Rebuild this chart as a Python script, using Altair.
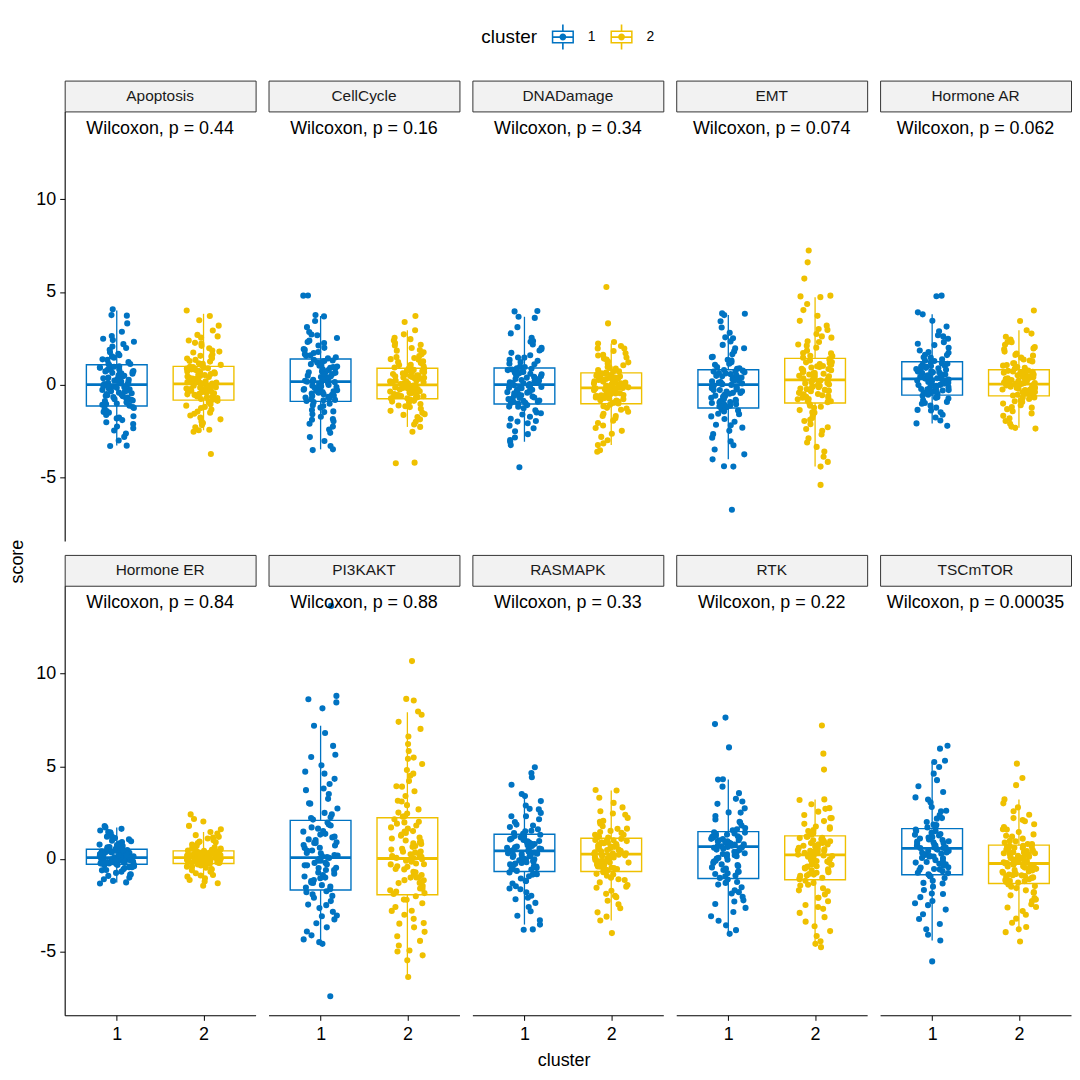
import altair as alt
import pandas as pd

PATHWAYS = ["Apoptosis", "CellCycle", "DNADamage", "EMT", "Hormone AR",
            "Hormone ER", "PI3KAKT", "RASMAPK", "RTK", "TSCmTOR"]
CLUSTERS = ["1", "2"]
COLORS = ["#0073C2", "#EFC000"]
P_LABELS = ["Wilcoxon, p = 0.44", "Wilcoxon, p = 0.16", "Wilcoxon, p = 0.34",
            "Wilcoxon, p = 0.074", "Wilcoxon, p = 0.062", "Wilcoxon, p = 0.84",
            "Wilcoxon, p = 0.88", "Wilcoxon, p = 0.33", "Wilcoxon, p = 0.22",
            "Wilcoxon, p = 0.00035"]
Y_TICKS = [-5, 0, 5, 10]
X_TICKS = [1, 2]
Y_DOMAIN = [-8.45, 14.75]
LABEL_X = 1.5
LABEL_Y = 13.8

# box statistics per pathway (order of PATHWAYS)
Q1_C1 = [-1.16, -0.91, -1.05, -1.27, -0.57, -0.29, -1.68, -0.68, -1.06, -0.86]
MED_C1 = [0.0, 0.16, 0.0, 0.0, 0.3, 0.07, 0.07, 0.43, 0.66, 0.57]
Q3_C1 = [1.07, 1.38, 0.89, 0.8, 1.23, 0.52, 2.08, 1.33, 1.47, 1.63]
LO_C1 = [-3.29, -3.5, -3.09, -4.04, -2.1, -1.27, -4.59, -3.55, -4.05, -4.41]
HI_C1 = [4.0, 3.7, 3.66, 3.75, 3.79, 1.7, 7.19, 3.39, 4.28, 5.23]
Q1_C2 = [-0.84, -0.77, -1.04, -1.0, -0.61, -0.25, -1.94, -0.68, -1.13, -1.33]
MED_C2 = [0.04, -0.02, -0.18, 0.25, 0.02, 0.07, 0.02, 0.25, 0.21, -0.25]
Q3_C2 = [0.98, 0.88, 0.63, 1.41, 0.8, 0.43, 2.22, 1.11, 1.24, 0.74]
LO_C2 = [-2.47, -2.29, -3.27, -4.43, -2.34, -1.27, -6.38, -3.33, -4.59, -3.96]
HI_C2 = [3.82, 2.93, 2.21, 4.72, 2.93, 1.45, 7.92, 3.69, 3.21, 3.21]

APOPTOSIS_1 = [4.06, 3.75, 3.72, 3.3, 2.85, 2.62, 2.47, 2.31, 2.18, 1.97, 1.88, 1.74, 1.66, 1.52, 1.45, 1.33, 1.21, 1.12,
               1.04, 0.98, 0.91, 0.84, 0.79, 0.71, 0.63, 0.58, 0.49, 0.44, 0.37, 0.29, 0.22, 0.16, 0.09, 0.03, 0.01,
               -0.04, -0.11, -0.18, -0.26, -0.33, -0.39, -0.47, -0.52, -0.61, -0.68, -0.74, -0.83, -0.89, -0.96, -1.03, -1.09, -1.14,
               -1.22, -1.31, -1.43, -1.52, -1.64, -1.71, -1.83, -1.92, -2.04, -2.13, -2.27, -2.36, -2.48, -2.65, -2.83, -3.02, -3.32, -3.3,
               0.92, 0.55, 0.13, -0.21, -0.58, -0.97, 1.36, 0.67, 0.26, -0.07, -0.44, -0.79, -1.27, 1.58, 0.81, 0.34, -0.15, -0.63,
               -1.05, 2.05, 0.47, 0.06, -0.36, -0.86, 1.11, 0.73, -0.29, -0.71, -1.48, 0.19, 0.96, -0.55, 2.4, -1.78, 0.61, -0.12]
APOPTOSIS_2 = [4.0, 3.7, 3.47, 3.18, 2.92, 2.68, 2.53, 2.38, 2.21, 2.09, 1.96, 1.84, 1.73, 1.62, 1.51, 1.42, 1.33, 1.24, 1.15, 1.06, 1.01,
               0.96, 0.91, 0.86, 0.79, 0.74, 0.68, 0.63, 0.57, 0.51, 0.46, 0.41, 0.34, 0.29, 0.23, 0.18, 0.13, 0.08, 0.05, 0.02,
               -0.03, -0.08, -0.14, -0.19, -0.24, -0.31, -0.36, -0.42, -0.47, -0.53, -0.58, -0.64, -0.69, -0.73, -0.78, -0.82,
               -0.88, -0.97, -1.06, -1.14, -1.27, -1.35, -1.46, -1.58, -1.67, -1.79, -1.88, -1.99, -2.08, -2.19, -2.31, -2.44, -2.55, -2.47, -3.75,
               0.88, 0.52, 0.16, -0.22, -0.61, 1.27, 0.71, 0.32, -0.06, -0.45, -0.77, 1.55, 0.94, 0.43, 0.1, -0.27, -0.66, 1.78, 0.6, 0.24,
               -0.12, -0.5, -0.93, 1.12, 0.37, 0.01, -0.38, -1.21, 2.25, 0.82, -0.17, -0.71, 1.4, -1.52, 0.66, -0.33, 2.6, 0.2, -0.56, 1.02]
CELLCYCLE_1 = [4.81, 4.8, 3.75, 3.68, 3.43, 3.1, 2.84, 2.66, 2.51, 2.37, 2.24, 2.11, 1.98, 1.87, 1.76, 1.64, 1.55, 1.47, 1.41,
               1.34, 1.27, 1.19, 1.1, 1.02, 0.94, 0.87, 0.79, 0.71, 0.63, 0.56, 0.48, 0.41, 0.33, 0.26, 0.2, 0.17,
               0.13, 0.07, 0.01, -0.06, -0.13, -0.21, -0.28, -0.34, -0.41, -0.49, -0.55, -0.62, -0.7, -0.76, -0.83, -0.89,
               -0.95, -1.04, -1.16, -1.25, -1.38, -1.49, -1.61, -1.74, -1.86, -1.98, -2.12, -2.27, -2.43, -2.61, -2.84, -3.05, -3.32, -3.5, -3.54,
               1.22, 0.83, 0.45, 0.09, -0.31, -0.67, 1.58, 1.05, 0.6, 0.23, -0.17, -0.52, -0.85, 1.91, 0.97, 0.38, -0.02, -0.44,
               -1.12, 2.3, 0.72, 0.15, -0.24, -0.79, 1.3, 0.52, -0.1, -0.6, -1.45, 2.7, 0.9, 0.3, -0.37, 1.7, -1.9, 0.66]
CELLCYCLE_2 = [3.7, 3.38, 2.93, 2.71, 2.52, 2.38, 2.24, 2.11, 1.97, 1.86, 1.74, 1.63, 1.54, 1.43, 1.34, 1.25, 1.16, 1.07, 0.98, 0.92,
               0.86, 0.81, 0.76, 0.7, 0.65, 0.6, 0.54, 0.49, 0.44, 0.38, 0.33, 0.28, 0.22, 0.17, 0.12, 0.07, 0.03, 0.0,
               -0.05, -0.09, -0.14, -0.19, -0.24, -0.28, -0.33, -0.38, -0.43, -0.47, -0.52, -0.57, -0.62, -0.66, -0.71, -0.75,
               -0.81, -0.88, -0.96, -1.05, -1.13, -1.22, -1.31, -1.42, -1.53, -1.64, -1.76, -1.88, -2.01, -2.16, -2.29, -2.55, -4.25, -4.22,
               0.79, 0.46, 0.13, -0.2, -0.51, 1.21, 0.67, 0.31, -0.03, -0.36, -0.68, 1.48, 0.85, 0.41, 0.06, -0.27, -0.59, 1.83, 0.57, 0.21,
               -0.11, -0.45, -0.92, 1.05, 0.36, 0.0, -0.31, -1.17, 2.15, 0.72, -0.16, -0.63, 1.37, -1.6, 0.5, -0.41, 2.45, 0.17, -0.74, 0.95]
DNADAMAGE_1 = [3.97, 3.95, 3.66, 3.6, 3.1, 2.76, 2.52, 2.31, 2.16, 1.98, 1.84, 1.71, 1.58, 1.46, 1.33, 1.21, 1.09, 0.97,
               0.87, 0.81, 0.74, 0.68, 0.61, 0.55, 0.49, 0.42, 0.36, 0.3, 0.24, 0.18, 0.12, 0.06, 0.02,
               -0.04, -0.1, -0.17, -0.23, -0.3, -0.37, -0.44, -0.51, -0.58, -0.65, -0.72, -0.79, -0.86, -0.93, -0.99, -1.03,
               -1.11, -1.19, -1.28, -1.39, -1.51, -1.62, -1.74, -1.85, -1.97, -2.09, -2.22, -2.36, -2.52, -2.68, -2.86, -3.0, -3.09, -3.27, -4.47,
               0.78, 0.45, 0.14, -0.2, -0.54, -0.88, 1.12, 0.63, 0.3, -0.02, -0.36, -0.7, -1.0, 1.45, 0.7, 0.22, -0.13, -0.47,
               -1.2, 1.9, 0.52, 0.08, -0.28, -0.77, 0.95, 0.37, -0.07, -0.62, -1.55, 2.35, 0.85, -0.41, 1.28, -2.0, 0.58, -0.93]
DNADAMAGE_2 = [5.27, 3.3, 2.3, 2.21, 2.08, 1.94, 1.81, 1.69, 1.57, 1.46, 1.35, 1.24, 1.14, 1.04, 0.95, 0.86, 0.78, 0.7, 0.65,
               0.6, 0.55, 0.5, 0.44, 0.38, 0.33, 0.27, 0.21, 0.16, 0.1, 0.05, -0.01, -0.06, -0.11, -0.15, -0.17,
               -0.21, -0.26, -0.31, -0.36, -0.42, -0.47, -0.53, -0.58, -0.64, -0.7, -0.76, -0.81, -0.87, -0.93, -0.98, -1.02,
               -1.09, -1.17, -1.26, -1.36, -1.47, -1.58, -1.7, -1.82, -1.95, -2.08, -2.21, -2.35, -2.5, -2.66, -2.83, -3.01, -3.18, -3.27, -3.55, -3.63,
               0.54, 0.25, -0.05, -0.33, -0.62, -0.92, 0.88, 0.43, 0.12, -0.19, -0.48, -0.79, 1.2, 0.6, 0.3, 0.0, -0.27, -0.57, -0.99, 1.6,
               0.48, 0.07, -0.24, -0.68, -1.3, 0.71, 0.18, -0.12, -0.43, -0.85, 1.95, 0.36, -0.39, -1.7, 0.95, -0.73, 0.02, -0.52, 1.4, -0.2]
EMT_1 = [3.84, 3.82, 3.75, 3.42, 3.08, 2.79, 2.55, 2.33, 2.14, 1.96, 1.79, 1.63, 1.48, 1.34, 1.2, 1.07, 0.94, 0.85,
         0.78, 0.72, 0.66, 0.6, 0.53, 0.47, 0.41, 0.35, 0.29, 0.23, 0.17, 0.11, 0.06, 0.02,
         -0.05, -0.13, -0.21, -0.3, -0.38, -0.46, -0.55, -0.63, -0.72, -0.8, -0.89, -0.97, -1.06, -1.14, -1.22,
         -1.33, -1.45, -1.58, -1.72, -1.86, -2.01, -2.17, -2.33, -2.5, -2.68, -2.87, -3.07, -3.28, -3.51, -3.77, -4.04, -4.43, -4.41, -6.76,
         0.7, 0.38, 0.05, -0.27, -0.6, -0.95, 1.12, 0.56, 0.2, -0.12, -0.45, -0.82, -1.18, 1.5, 0.62, 0.14, -0.2, -0.67,
         -1.4, 1.95, 0.45, -0.02, -0.36, -1.0, 0.88, 0.27, -0.5, -1.6, 2.5, 0.75, -0.88, -2.2, 1.3, 0.1, -0.3, -1.1]
EMT_2 = [7.24, 6.6, 5.72, 4.8, 4.76, 4.72, 4.35, 4.02, 3.71, 3.44, 3.18, 2.95, 2.73, 2.53, 2.34, 2.16, 1.99, 1.83, 1.68, 1.54, 1.45,
         1.37, 1.3, 1.22, 1.15, 1.07, 0.99, 0.92, 0.84, 0.77, 0.69, 0.62, 0.54, 0.47, 0.4, 0.33, 0.27,
         0.22, 0.15, 0.08, 0.0, -0.07, -0.14, -0.22, -0.29, -0.36, -0.44, -0.51, -0.58, -0.66, -0.73, -0.8, -0.88, -0.95,
         -1.05, -1.14, -1.26, -1.38, -1.52, -1.66, -1.81, -1.97, -2.14, -2.31, -2.5, -2.7, -2.91, -3.13, -3.37, -3.62, -3.9, -4.18, -4.43, -5.42,
         1.28, 0.85, 0.45, 0.06, -0.33, -0.71, 1.7, 1.1, 0.62, 0.24, -0.15, -0.53, -0.9, 2.1, 1.0, 0.5, 0.12, -0.25, -0.62, -1.2,
         2.6, 0.78, 0.34, -0.04, -0.45, -1.5, 1.55, 0.68, 0.18, -0.78, 3.0, 1.2, -0.1, -1.9, 0.95, 0.4, -0.35, 2.3, -2.4, 0.58]
HORMONE_AR_1 = [4.8, 4.77, 3.9, 3.79, 3.44, 3.13, 2.88, 2.66, 2.47, 2.29, 2.13, 1.98, 1.84, 1.71, 1.59, 1.47, 1.36, 1.27,
                1.2, 1.14, 1.08, 1.02, 0.96, 0.9, 0.84, 0.78, 0.72, 0.66, 0.6, 0.54, 0.48, 0.42, 0.37, 0.32,
                0.27, 0.22, 0.16, 0.1, 0.04, -0.02, -0.08, -0.14, -0.2, -0.26, -0.32, -0.38, -0.44, -0.5, -0.55,
                -0.61, -0.68, -0.76, -0.85, -0.94, -1.04, -1.14, -1.25, -1.37, -1.5, -1.63, -1.78, -1.94, -2.1, -2.23,
                1.12, 0.8, 0.5, 0.22, -0.07, -0.36, 1.45, 0.97, 0.62, 0.34, 0.05, -0.24, -0.5, 1.75, 0.88, 0.41, 0.14, -0.16,
                -0.72, 2.2, 0.7, 0.28, -0.03, -0.43, 1.3, 0.56, 0.19, -0.3, -1.0, 2.6, 1.0, 0.45, -0.12, 1.6, -1.4, 0.66]
HORMONE_AR_2 = [4.0, 3.43, 2.93, 2.75, 2.58, 2.43, 2.29, 2.15, 2.02, 1.9, 1.78, 1.67, 1.56, 1.45, 1.35, 1.25, 1.15, 1.05, 0.95, 0.86,
                0.78, 0.74, 0.69, 0.64, 0.59, 0.54, 0.49, 0.44, 0.39, 0.34, 0.29, 0.24, 0.19, 0.14, 0.09, 0.05, 0.03,
                0.0, -0.04, -0.08, -0.12, -0.17, -0.21, -0.25, -0.29, -0.34, -0.38, -0.42, -0.47, -0.51, -0.55, -0.59,
                -0.65, -0.71, -0.78, -0.86, -0.94, -1.03, -1.12, -1.22, -1.33, -1.44, -1.56, -1.69, -1.83, -1.97, -2.12, -2.27, -2.34, -2.38,
                0.71, 0.45, 0.2, -0.05, -0.3, -0.54, 1.02, 0.62, 0.36, 0.11, -0.14, -0.4, 1.3, 0.75, 0.5, 0.26, 0.01, -0.23, -0.48, 1.6,
                0.57, 0.3, 0.07, -0.19, -0.7, 0.9, 0.41, 0.15, -0.1, -0.36, 1.95, 0.66, -0.02, -0.9, 1.15, -1.25, 0.32, -0.27, 2.3, 0.08]
HORMONE_ER_1 = [1.77, 1.7, 1.62, 1.53, 1.44, 1.36, 1.28, 1.2, 1.12, 1.05, 0.98, 0.91, 0.84, 0.77, 0.7, 0.64, 0.58, 0.54,
                0.5, 0.47, 0.44, 0.41, 0.38, 0.35, 0.32, 0.29, 0.26, 0.23, 0.2, 0.17, 0.14, 0.11, 0.09, 0.08,
                0.06, 0.04, 0.01, -0.02, -0.05, -0.07, -0.1, -0.13, -0.15, -0.18, -0.2, -0.23, -0.25, -0.28,
                -0.31, -0.35, -0.4, -0.45, -0.5, -0.56, -0.62, -0.69, -0.76, -0.84, -0.92, -1.01, -1.1, -1.19, -1.27, -1.33,
                0.45, 0.3, 0.15, 0.0, -0.14, -0.25, 0.62, 0.38, 0.22, 0.07, -0.08, -0.21, 0.75, 0.41, 0.27, 0.12, -0.03, -0.17,
                -0.33, 0.95, 0.34, 0.18, 0.04, -0.11, -0.45, 0.55, 0.25, 0.1, -0.06, -0.24, 1.2, 0.48, -0.6, 0.2, 1.45, -0.85]
HORMONE_ER_2 = [2.4, 2.15, 2.02, 1.78, 1.45, 1.37, 1.28, 1.19, 1.1, 1.01, 0.93, 0.85, 0.77, 0.69, 0.62, 0.55, 0.49, 0.45,
                0.41, 0.38, 0.36, 0.35, 0.32, 0.3, 0.29, 0.26, 0.23, 0.21, 0.2, 0.18, 0.15, 0.13, 0.12, 0.1, 0.08,
                0.05, 0.03, 0.0, -0.02, -0.03, -0.05, -0.08, -0.1, -0.11, -0.13, -0.16, -0.19, -0.22, -0.24,
                -0.27, -0.31, -0.36, -0.42, -0.48, -0.55, -0.62, -0.7, -0.78, -0.87, -0.96, -1.05, -1.14, -1.22, -1.32, -1.45,
                0.38, 0.25, 0.12, -0.01, -0.14, -0.22, 0.55, 0.33, 0.2, 0.07, -0.06, -0.18, 0.7, 0.4, 0.27, 0.14, 0.02, -0.1, -0.3, 0.9,
                0.31, 0.17, 0.05, -0.07, -0.42, 0.5, 0.22, 0.09, -0.04, -0.2, 1.15, 0.44, -0.58, 0.16, 1.6, -0.9, 0.28, -0.12, 0.62, 0.0]
PI3KAKT_1 = [13.66, 8.8, 8.62, 8.45, 8.13, 7.19, 6.8, 6.1, 5.62, 5.5, 5.05, 4.71, 4.32, 4.04, 3.71, 3.5, 3.24, 2.98, 2.72, 2.48, 2.25, 2.12,
             1.96, 1.8, 1.63, 1.47, 1.31, 1.16, 1.01, 0.86, 0.72, 0.58, 0.44, 0.3, 0.18, 0.1,
             0.02, -0.1, -0.22, -0.35, -0.48, -0.61, -0.74, -0.88, -1.01, -1.14, -1.28, -1.42, -1.55, -1.64,
             -1.75, -1.92, -2.1, -2.28, -2.47, -2.66, -2.86, -3.06, -3.27, -3.48, -3.7, -3.92, -4.13, -4.35, -4.5, -4.59, -7.42,
             1.85, 1.2, 0.6, 0.05, -0.5, -1.05, -1.5, 2.4, 1.5, 0.9, 0.32, -0.22, -0.8, -1.3, 3.0, 1.7, 0.75, 0.15,
             -0.35, -1.2, -2.0, 3.8, 1.05, 0.45, -0.1, -0.95, -2.5, 2.2, 0.2, -0.6, -3.1, 4.6, 1.35, -1.8, 0.85, -0.3]
PI3KAKT_2 = [10.68, 8.64, 8.55, 7.96, 7.78, 7.4, 7.02, 6.61, 6.2, 5.82, 5.47, 5.12, 4.8, 4.49, 4.2, 3.92, 3.65, 3.39, 3.14, 2.9, 2.67, 2.45, 2.28,
             2.14, 1.97, 1.8, 1.63, 1.47, 1.31, 1.15, 0.99, 0.84, 0.69, 0.54, 0.39, 0.25, 0.11, 0.04,
             -0.02, -0.15, -0.29, -0.43, -0.57, -0.72, -0.87, -1.01, -1.16, -1.31, -1.46, -1.62, -1.77, -1.9,
             -2.02, -2.21, -2.4, -2.6, -2.81, -3.02, -3.24, -3.47, -3.7, -3.94, -4.18, -4.43, -4.68, -4.95, -5.0, -5.21, -5.48, -6.38,
             2.0, 1.4, 0.8, 0.2, -0.4, -1.0, -1.6, 2.5, 1.7, 1.1, 0.5, -0.1, -0.7, -1.3, -1.85, 3.1, 1.9, 0.95, 0.35, -0.25,
             -0.85, -2.2, 3.9, 1.25, 0.65, 0.05, -0.55, -1.15, -2.8, 2.3, 0.9, -0.3, -1.7, 4.6, 1.5, -3.5, 0.15, -1.0, 5.4, 0.4]
RASMAPK_1 = [4.95, 4.64, 4.41, 4.0, 3.5, 3.39, 3.12, 2.88, 2.67, 2.48, 2.3, 2.14, 1.99, 1.85, 1.72, 1.6, 1.49, 1.39,
             1.3, 1.23, 1.16, 1.09, 1.02, 0.95, 0.88, 0.81, 0.74, 0.67, 0.6, 0.53, 0.47, 0.44,
             0.38, 0.3, 0.22, 0.14, 0.06, -0.02, -0.1, -0.18, -0.26, -0.34, -0.42, -0.5, -0.58, -0.65,
             -0.73, -0.83, -0.94, -1.06, -1.19, -1.33, -1.48, -1.64, -1.81, -1.99, -2.18, -2.38, -2.6, -2.83, -3.07, -3.32, -3.55, -3.83, -3.81,
             1.2, 0.88, 0.55, 0.24, -0.08, -0.4, 1.52, 1.05, 0.72, 0.4, 0.1, -0.22, -0.55, 1.8, 0.96, 0.5, 0.18, -0.15,
             -0.85, 2.3, 0.8, 0.33, 0.02, -0.3, -1.2, 1.35, 0.62, 0.28, -0.48, -1.6, 2.7, 1.1, -0.02, 0.45, -2.1, 0.7]
RASMAPK_2 = [3.72, 3.69, 3.3, 3.02, 2.78, 2.57, 2.38, 2.21, 2.05, 1.9, 1.76, 1.63, 1.51, 1.4, 1.3, 1.21, 1.14,
             1.08, 1.02, 0.96, 0.9, 0.84, 0.78, 0.71, 0.65, 0.59, 0.53, 0.47, 0.41, 0.35, 0.3, 0.27,
             0.22, 0.15, 0.08, 0.01, -0.06, -0.13, -0.2, -0.27, -0.34, -0.41, -0.48, -0.55, -0.62, -0.66,
             -0.72, -0.81, -0.91, -1.02, -1.14, -1.27, -1.41, -1.56, -1.72, -1.89, -2.07, -2.26, -2.46, -2.67, -2.89, -3.12, -3.33, -4.01,
             1.0, 0.72, 0.43, 0.15, -0.13, -0.42, 1.3, 0.88, 0.58, 0.3, 0.02, -0.26, -0.58, 1.62, 0.8, 0.5, 0.22, -0.06, -0.35, -0.85,
             2.0, 0.66, 0.36, 0.08, -0.2, -1.1, 1.15, 0.46, 0.19, -0.5, -1.5, 2.45, 0.94, -0.1, -2.0, 0.6, 0.26, -0.32, 1.45, 0.12]
RTK_1 = [7.63, 7.28, 6.02, 4.3, 4.28, 3.9, 3.55, 3.24, 2.97, 2.73, 2.51, 2.31, 2.13, 1.96, 1.8, 1.66, 1.54,
         1.43, 1.37, 1.31, 1.25, 1.19, 1.13, 1.07, 1.01, 0.95, 0.89, 0.83, 0.77, 0.71, 0.68,
         0.62, 0.5, 0.38, 0.26, 0.14, 0.02, -0.1, -0.22, -0.34, -0.46, -0.58, -0.7, -0.82, -0.94, -1.03,
         -1.12, -1.25, -1.39, -1.54, -1.7, -1.87, -2.05, -2.24, -2.44, -2.65, -2.87, -3.1, -3.34, -3.59, -3.85, -4.05,
         1.35, 1.0, 0.72, 0.4, 0.05, -0.3, -0.7, 1.6, 1.15, 0.86, 0.55, 0.2, -0.15, -0.52, -0.9, 2.0, 1.22, 0.64,
         0.3, -0.05, -1.3, 2.5, 0.95, 0.48, 0.12, -0.4, -1.8, 1.42, 0.78, 0.6, -0.78, 3.1, 1.08, -2.3, 0.25, -0.6]
RTK_2 = [7.2, 5.68, 4.82, 3.21, 3.18, 2.95, 2.74, 2.55, 2.37, 2.2, 2.04, 1.89, 1.75, 1.62, 1.5, 1.39, 1.3,
         1.2, 1.13, 1.06, 0.99, 0.92, 0.85, 0.78, 0.71, 0.64, 0.57, 0.5, 0.43, 0.36, 0.29, 0.23,
         0.18, 0.08, -0.02, -0.12, -0.22, -0.32, -0.42, -0.52, -0.62, -0.72, -0.82, -0.92, -1.02, -1.1,
         -1.18, -1.3, -1.44, -1.59, -1.75, -1.92, -2.1, -2.29, -2.49, -2.7, -2.92, -3.15, -3.39, -3.64, -3.9, -4.17, -4.45, -4.59, -4.77,
         1.12, 0.78, 0.46, 0.12, -0.22, -0.56, -0.9, 1.4, 0.95, 0.6, 0.28, -0.06, -0.4, -0.75, 1.7, 0.86, 0.38, 0.04, -0.3, -1.05,
         -1.4, 2.2, 0.7, 0.2, -0.14, -0.65, -1.7, 1.2, 0.52, -0.48, -2.1, 2.7, 1.0, 0.32, -0.85, -2.6, 0.15, 0.42, 1.55, -0.2]
TSCMTOR_1 = [6.11, 5.95, 5.3, 5.23, 4.96, 4.6, 4.25, 3.92, 3.61, 3.32, 3.05, 2.8, 2.57, 2.36, 2.17, 1.99, 1.83, 1.7,
             1.58, 1.5, 1.42, 1.34, 1.26, 1.18, 1.1, 1.02, 0.94, 0.86, 0.78, 0.7, 0.62, 0.59,
             0.53, 0.43, 0.33, 0.23, 0.13, 0.03, -0.07, -0.17, -0.27, -0.37, -0.47, -0.57, -0.67, -0.77, -0.84,
             -0.92, -1.04, -1.18, -1.33, -1.5, -1.68, -1.87, -2.07, -2.28, -2.5, -2.74, -2.99, -3.25, -3.52, -3.8, -4.1, -4.41, -5.54,
             1.5, 1.15, 0.82, 0.5, 0.2, -0.12, -0.45, -0.75, 1.85, 1.3, 0.95, 0.66, 0.35, 0.05, -0.3, -0.6, 2.2, 1.05,
             0.72, 0.42, 0.12, -0.95, 2.6, 1.4, 0.58, 0.28, -0.2, -1.3, 3.2, 0.9, -0.55, -1.9, 1.75, 0.62, 0.15, -2.4]
TSCMTOR_2 = [5.14, 4.37, 3.98, 3.21, 3.0, 2.78, 2.57, 2.38, 2.2, 2.03, 1.87, 1.72, 1.58, 1.45, 1.32, 1.2, 1.09, 0.98, 0.88, 0.8,
             0.71, 0.66, 0.6, 0.54, 0.48, 0.42, 0.36, 0.3, 0.23, 0.17, 0.11, 0.05, -0.01, -0.07, -0.13, -0.19, -0.23,
             -0.29, -0.35, -0.41, -0.47, -0.54, -0.61, -0.68, -0.75, -0.82, -0.89, -0.96, -1.03, -1.1, -1.18, -1.25, -1.3,
             -1.38, -1.47, -1.58, -1.7, -1.83, -1.97, -2.12, -2.28, -2.45, -2.63, -2.82, -3.02, -3.23, -3.45, -3.68, -3.8, -3.96, -4.46,
             0.65, 0.35, 0.05, -0.25, -0.55, -0.85, -1.15, 0.95, 0.5, 0.2, -0.1, -0.4, -0.7, -1.0, -1.28, 1.25, 0.58, 0.27, -0.02, -0.32,
             -0.62, -1.5, 1.6, 0.42, 0.12, -0.18, -0.48, -0.93, -1.8, 0.8, -0.05, -0.75, -2.2, 2.1, 0.3, -1.2, -0.38, 0.7, -2.6, -0.88]

SERIES = [(APOPTOSIS_1, APOPTOSIS_2), (CELLCYCLE_1, CELLCYCLE_2), (DNADAMAGE_1, DNADAMAGE_2),
          (EMT_1, EMT_2), (HORMONE_AR_1, HORMONE_AR_2), (HORMONE_ER_1, HORMONE_ER_2),
          (PI3KAKT_1, PI3KAKT_2), (RASMAPK_1, RASMAPK_2), (RTK_1, RTK_2), (TSCMTOR_1, TSCMTOR_2)]

# ---------------------------------------------------------------- tables
pt_rows = []
k = 0
for p, pair in zip(PATHWAYS, SERIES):
    for cl, vals in zip(CLUSTERS, pair):
        for v in vals:
            pt_rows.append({"pathway": p, "cluster": cl, "cx": int(cl), "score": v, "i": k})
            k += 1
points_df = pd.DataFrame(pt_rows)

box_rows = []
for j, p in enumerate(PATHWAYS):
    box_rows.append({"pathway": p, "cluster": "1", "cx": 1, "q1": Q1_C1[j], "med": MED_C1[j],
                     "q3": Q3_C1[j], "lo": LO_C1[j], "hi": HI_C1[j]})
    box_rows.append({"pathway": p, "cluster": "2", "cx": 2, "q1": Q1_C2[j], "med": MED_C2[j],
                     "q3": Q3_C2[j], "lo": LO_C2[j], "hi": HI_C2[j]})
box_df = pd.DataFrame(box_rows)

# ---------------------------------------------------------------- styling
FONT = "Liberation Sans"
PANEL_W = 192
PANEL_H = 432
STRIP_H = 31
BOX_HALF = 0.35
JITTER = 0.4

GLYPH = ("M-0.88,-0.52H0.88V-0.4H-0.88Z"
         "M-0.88,0.4H0.88V0.52H-0.88Z"
         "M-0.88,-0.52H-0.76V0.52H-0.88Z"
         "M0.76,-0.52H0.88V0.52H0.76Z"
         "M-0.88,-0.07H0.88V0.07H-0.88Z"
         "M-0.065,-1H0.065V-0.52H-0.065Z"
         "M-0.065,0.52H0.065V1H-0.065Z"
         "M0.27,0A0.27,0.27,0,1,1,-0.27,0A0.27,0.27,0,1,1,0.27,0Z")

LEGEND = alt.Legend(
    title="cluster", orient="none", legendX=419, legendY=-57, direction="horizontal",
    titleOrient="left", titleFontSize=19, titleFontWeight="normal", titleColor="black",
    titleFont=FONT, titleBaseline="middle", titlePadding=13,
    labelFontSize=14, labelColor="black", labelFont=FONT, labelOffset=12,
    symbolType=GLYPH, symbolSize=640, symbolStrokeWidth=0, symbolOpacity=1,
    columnPadding=13,
)

cscale = alt.Scale(domain=CLUSTERS, range=COLORS)
sscale = alt.Scale(domain=[1, 2], range=COLORS)
xscale = alt.Scale(domain=[0.4, 2.6], nice=False, zero=False)
yscale = alt.Scale(domain=Y_DOMAIN, nice=False, zero=False)

jit_expr = ("datum.cx + %s * ((sin(datum.i * 12.9898 + 4.1) * 43758.5453)"
            " - floor(sin(datum.i * 12.9898 + 4.1) * 43758.5453) - 0.5)" % JITTER)


def panel(idx):
    p = PATHWAYS[idx]
    row, col = divmod(idx, 5)
    if row == 1:
        xaxis = alt.Axis(values=X_TICKS, format="d", title=None, labelFontSize=18, labelColor="black",
                         labelFont=FONT, tickColor="black", tickSize=5, tickWidth=1, domainColor="black",
                         domainWidth=1.1, labelPadding=5, grid=False, labelFlush=False)
    else:
        xaxis = None
    if col == 0:
        yaxis = alt.Axis(values=Y_TICKS, title=None, labelFontSize=18, labelColor="black",
                         labelFont=FONT, tickColor="black", tickSize=5, tickWidth=1, domainColor="black",
                         domainWidth=1.1, labelPadding=4, grid=False, labelExpr="datum.value + ''")
    else:
        yaxis = None

    def X(f):
        return alt.X(f, type="quantitative", scale=xscale, axis=xaxis)

    def Y(f):
        return alt.Y(f, type="quantitative", scale=yscale, axis=yaxis)

    stroke_enc = alt.Stroke("cx:O", scale=sscale, legend=None)

    bdat = box_df[box_df.pathway == p]
    base = alt.Chart(bdat).transform_calculate(
        xl="datum.cx - %s" % BOX_HALF, xr="datum.cx + %s" % BOX_HALF)

    whisker = base.mark_rule(strokeWidth=1.3).encode(
        x=X("cx"), y=Y("lo"), y2="hi:Q", stroke=stroke_enc)
    box = base.mark_rect(fill="white", strokeWidth=1.4).encode(
        x=X("xl"), x2="xr:Q", y=Y("q1"), y2="q3:Q", stroke=stroke_enc)
    median = base.mark_rule(strokeWidth=2.8).encode(
        x=X("xl"), x2="xr:Q", y=Y("med"), stroke=stroke_enc)

    pdat = points_df[points_df.pathway == p]
    pts = alt.Chart(pdat).transform_calculate(xj=jit_expr).mark_circle(size=38, opacity=1).encode(
        x=X("xj"), y=Y("score"),
        color=alt.Color("cluster:N", scale=cscale, legend=LEGEND))

    ldat = pd.DataFrame({"label": [P_LABELS[idx]], "lx": [LABEL_X], "ly": [LABEL_Y]})
    ptext = alt.Chart(ldat).mark_text(fontSize=18, font=FONT, color="black", baseline="middle").encode(
        x=X("lx"), y=Y("ly"), text="label:N")

    plot = alt.layer(whisker, box, median, pts, ptext).properties(width=PANEL_W, height=PANEL_H)

    strip = alt.Chart(pd.DataFrame({"name": [p]})).mark_text(
        fontSize=15.5, font=FONT, color="#1A1A1A", baseline="middle").encode(
        text="name:N", x=alt.value(PANEL_W / 2), y=alt.value(STRIP_H / 2)).properties(
        width=PANEL_W, height=STRIP_H,
        view=alt.ViewBackground(fill="#F2F2F2", stroke="#333333", strokeWidth=1))

    return alt.vconcat(strip, plot, spacing=0, bounds="flush")


rows = [alt.hconcat(*[panel(r * 5 + c) for c in range(5)], spacing=11) for r in range(2)]
grid = alt.vconcat(*rows, spacing=13,
                   title=alt.TitleParams("score", orient="left", anchor="middle", fontSize=18,
                                         fontWeight="normal", color="black", font=FONT, offset=9))
chart = alt.vconcat(grid, title=alt.TitleParams("cluster", orient="bottom", anchor="middle", fontSize=18,
                                                fontWeight="normal", color="black", font=FONT, offset=9,
                                                dx=24))
chart = chart.properties(padding={"left": 0, "top": 13, "right": 0, "bottom": 0}).configure(
    font=FONT).configure_view(strokeWidth=0)

chart.save("out.html", embed_options={"renderer": "svg", "actions": False})
